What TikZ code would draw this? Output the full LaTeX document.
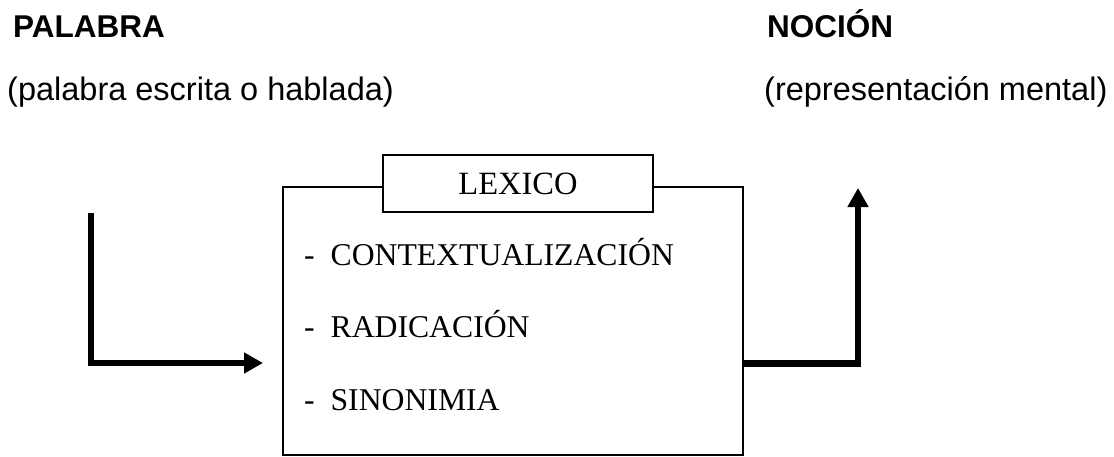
\documentclass[tikz,border=0pt]{standalone}
\usepackage{fontspec}
\setmainfont{Liberation Serif}
\newfontfamily\arialfont{Liberation Sans}
\usetikzlibrary{arrows.meta,positioning,calc}

\begin{document}
\begin{tikzpicture}[
                x=1pt, y=-1pt,
                titulo/.style={anchor=base west,inner sep=0pt,font=\arialfont\fontsize{31.5}{38}\selectfont\bfseries},
                nota/.style={anchor=base west,inner sep=0pt,font=\arialfont\fontsize{32.5}{39}\selectfont},
                item/.style={anchor=base west,inner sep=0pt,font=\fontsize{31.7}{38}\selectfont},
                flecha/.style={line width=5.5pt,-{Triangle[length=19pt,width=20pt]}}
            ]
                \useasboundingbox (0,0) rectangle (1114,456);
                \node (palabra)     [titulo] at (13,37)  {PALABRA};
                \node (nocion)      [titulo] at (767,37) {NOCIÓN};
                \node (palabradesc) [nota]   at (7,100)  {(palabra escrita o hablada)};
                \node (nociondesc)  [nota]   at (764,100) {(representación mental)};
                % caja del lexico
                \node (caja) [draw,line width=1.8pt,minimum width=460pt,minimum height=268pt] at (513,321) {};
                \node (lexico) [draw,fill=white,line width=1.8pt,minimum width=270pt,minimum height=57pt,
                                font=\fontsize{32.5}{39}\selectfont] at (518,183.5) {LEXICO};
                \node (contexto) [item] at (304,265) {-\enspace CONTEXTUALIZACIÓN};
                \node (radica)   [item] at (304,337) {-\enspace RADICACIÓN};
                \node (sinon)    [item] at (304,410) {-\enspace SINONIMIA};
                % flechas
                \coordinate (inicio) at (91,213);
                \coordinate (entrada) at (263,363);
                \coordinate (codo) at (858,363);
                \coordinate (fin) at (858,188);
                \draw[flecha] (inicio) |- (entrada);
                \draw[line width=7pt] (caja.east |- codo) -- ([xshift=2.75pt]codo);
                \draw[flecha] (codo) -- (fin);
            \end{tikzpicture}
\end{document}
